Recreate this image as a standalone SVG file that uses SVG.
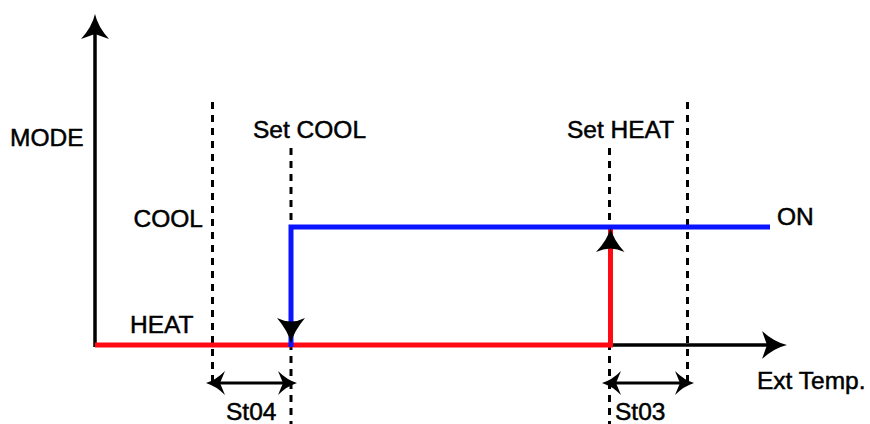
<svg xmlns="http://www.w3.org/2000/svg" width="870" height="424" viewBox="0 0 870 424">
  <defs>
    <style>
      text { font-family: "Liberation Sans", Arial, sans-serif; font-size: 24.5px; fill: #000; stroke: #000; stroke-width: 0.5; }
      .dash { stroke: #000; stroke-width: 3; stroke-dasharray: 7 6; fill: none; }
      .axis { stroke: #000; stroke-width: 3.5; fill: none; }
      .heat { stroke: #ff0a14; stroke-width: 5; fill: none; }
      .cool { stroke: #0a14ff; stroke-width: 5; fill: none; }
      .dim { stroke: #000; stroke-width: 3; fill: none; }
      .head { fill: #000; stroke: none; }
    </style>
    <marker id="bigArrow" markerUnits="userSpaceOnUse" viewBox="0 -15 26 30" markerWidth="26" markerHeight="30" refX="5" refY="0" orient="auto">
      <path class="head" d="M25,0 Q12,-3 0,-14 L5,0 L0,14 Q12,3 25,0 Z"/>
    </marker>
    <marker id="dimArrow" markerUnits="userSpaceOnUse" viewBox="0 -13 20 26" markerWidth="20" markerHeight="26" refX="5" refY="0" orient="auto-start-reverse">
      <path class="head" d="M19,0 Q9,-3 0,-12 L5,0 L0,12 Q9,3 19,0 Z"/>
    </marker>
  </defs>

  <g id="guides">
    <line class="dash" x1="212.5" y1="102" x2="212.5" y2="385"/>
    <line class="dash" x1="291" y1="148" x2="291" y2="424"/>
    <line class="dash" x1="609.5" y1="148" x2="609.5" y2="424"/>
    <line class="dash" x1="687.5" y1="102" x2="687.5" y2="385"/>
  </g>

  <g id="axes">
    <line class="axis" x1="95" y1="347" x2="95" y2="34" marker-end="url(#bigArrow)"/>
    <line class="axis" x1="608" y1="345" x2="767" y2="345" marker-end="url(#bigArrow)"/>
  </g>

  <g id="heat-line">
    <path class="heat" d="M95,345 H611"/>
    <path class="heat" d="M610.5,347.5 V229"/>
  </g>

  <g id="cool-line">
    <path class="cool" d="M291,347 V227 H770"/>
  </g>

  <g id="connectors">
    <path class="head" d="M291,343 Q288,331 277,318 Q291,325 305,318 Q294,331 291,343 Z"/>
    <path class="head" d="M610.5,228 Q607.5,240 596,252 Q610.5,245 624.5,252 Q613.5,240 610.5,228 Z"/>
    <line class="dim" x1="220" y1="383" x2="283" y2="383" marker-start="url(#dimArrow)" marker-end="url(#dimArrow)"/>
    <line class="dim" x1="616" y1="383" x2="680" y2="383" marker-start="url(#dimArrow)" marker-end="url(#dimArrow)"/>
  </g>

  <g id="labels">
    <text x="10" y="146">MODE</text>
    <text x="253" y="138">Set COOL</text>
    <text x="567" y="138">Set HEAT</text>
    <text x="203" y="227" text-anchor="end">COOL</text>
    <text x="130" y="333">HEAT</text>
    <text x="777" y="225">ON</text>
    <text x="757" y="389">Ext Temp.</text>
    <text x="226" y="420">St04</text>
    <text x="615" y="420">St03</text>
  </g>
</svg>
